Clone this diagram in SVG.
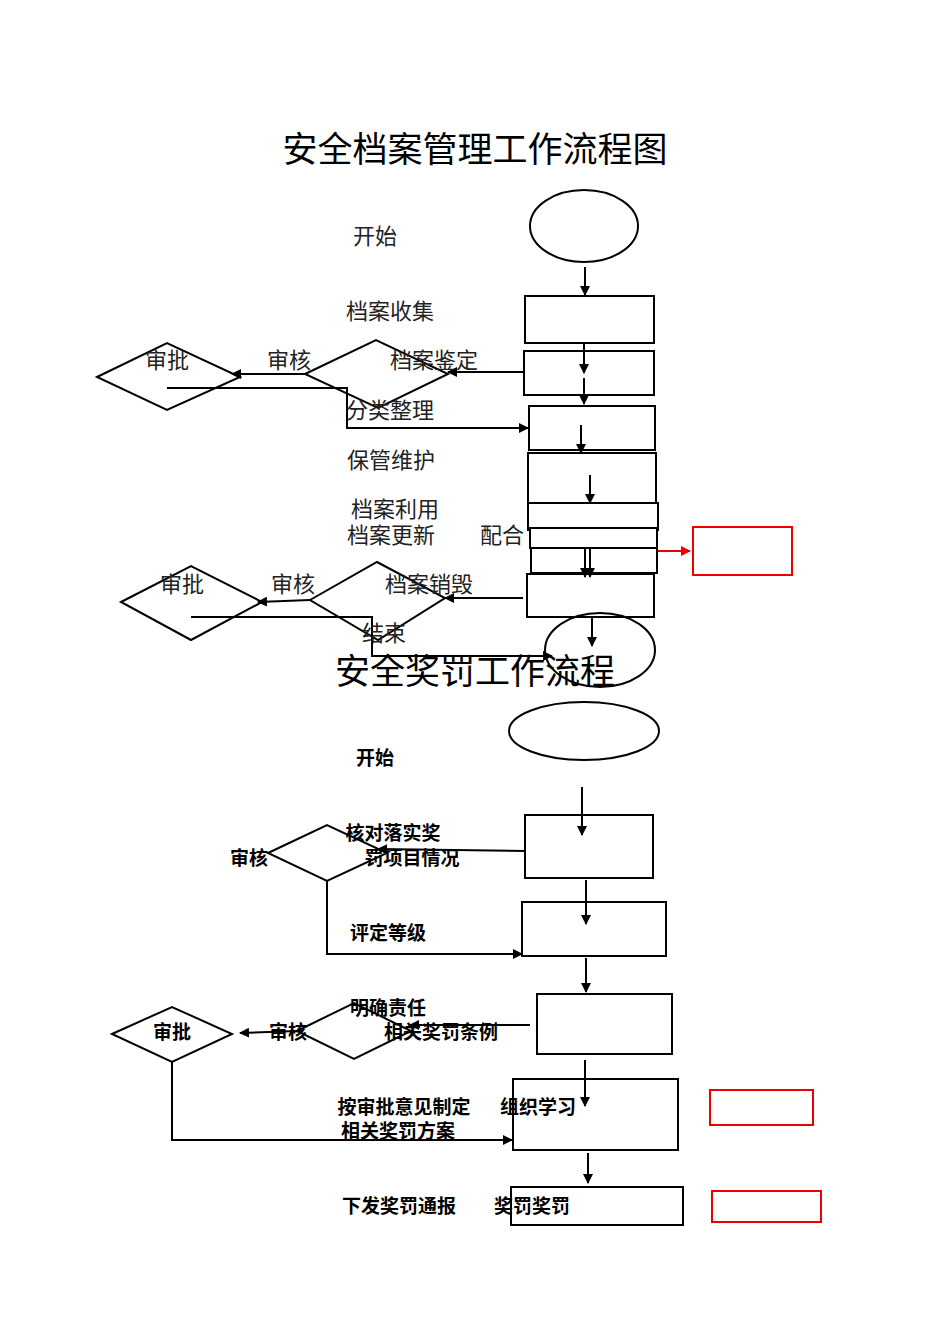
<svg xmlns="http://www.w3.org/2000/svg" width="950" height="1344" viewBox="0 0 950 1344">
<style>
text{font-family:"Noto Sans CJK SC","Liberation Sans",sans-serif;text-anchor:middle;fill:#000}
.t{font-size:35px}
.a{font-size:22px;fill:#222}
.b{font-size:19px;font-weight:bold}
.n{fill:#fff;stroke:#000;stroke-width:2}
.r{fill:none;stroke:#e00;stroke-width:2}
.c{fill:none;stroke:#000;stroke-width:2}
</style>
<defs>
<marker id="ar" viewBox="0 0 10 10" refX="9" refY="5" markerWidth="5" markerHeight="5" orient="auto"><path d="M0,0L10,5L0,10z" fill="#000"/></marker>
<marker id="ra" viewBox="0 0 10 10" refX="9" refY="5" markerWidth="5" markerHeight="5" orient="auto"><path d="M0,0L10,5L0,10z" fill="#e00"/></marker>
</defs>
<rect width="950" height="1344" fill="#fff"/>
<text class="t" x="475" y="162">安全档案管理工作流程图</text>
<g id="nodes1">
<g id="start1"><ellipse class="n" cx="584" cy="226" rx="54" ry="36"/></g>
<g id="r1"><rect class="n" x="525" y="296" width="129" height="47"/></g>
<g id="r2"><rect class="n" x="524" y="351" width="130" height="44"/></g>
<g id="r3"><rect class="n" x="529" y="406" width="126" height="44"/></g>
<g id="r4"><rect class="n" x="528" y="453" width="128" height="50"/></g>
<g id="r5"><rect class="n" x="528" y="503" width="130" height="27" stroke-width="3"/></g>
<g id="r6"><rect class="n" x="530" y="528" width="127" height="20" stroke-width="3"/></g>
<g id="r7"><rect class="n" x="531" y="548" width="126" height="25"/></g>
<g id="red1"><rect class="r" x="693" y="527" width="99" height="48"/></g>
<g id="r8"><rect class="n" x="527" y="574" width="127" height="43"/></g>
<g id="end1"><ellipse class="n" cx="600" cy="650" rx="55" ry="37" style="fill:none"/></g>
<g id="d1"><polygon class="n" points="305,374 376,340 448,374 378,408" style="fill:none"/></g>
<g id="d2"><polygon class="n" points="97,377 167,343 240,377 167,410" style="fill:none"/></g>
<g id="d3"><polygon class="n" points="310,600 377,562 445,598 378,640" style="fill:none"/></g>
<g id="d4"><polygon class="n" points="121,602 191,566 262,602 191,640" style="fill:none"/></g>
</g>
<g id="connectors1">
<line class="c" x1="585" y1="267" x2="585" y2="295" marker-end="url(#ar)"/>
<line class="c" x1="584" y1="343" x2="584" y2="373" marker-end="url(#ar)"/>
<line class="c" x1="584" y1="378" x2="584" y2="404" marker-end="url(#ar)"/>
<line class="c" x1="581" y1="425" x2="581" y2="453" marker-end="url(#ar)"/>
<line class="c" x1="590" y1="475" x2="590" y2="503" marker-end="url(#ar)"/>
<line class="c" x1="585" y1="548" x2="585" y2="577" marker-end="url(#ar)"/>
<line class="c" x1="590" y1="548" x2="590" y2="577" marker-end="url(#ar)"/>
<line x1="658" y1="551" x2="690" y2="551" stroke="#e00" stroke-width="2" marker-end="url(#ra)"/>
<line class="c" x1="592" y1="618" x2="592" y2="646" marker-end="url(#ar)"/>
<line class="c" x1="524" y1="372" x2="448" y2="372" marker-end="url(#ar)"/>
<line class="c" x1="305" y1="374" x2="232" y2="374" marker-end="url(#ar)"/>
<polyline class="c" points="167,388 347,388 347,428 528,428" marker-end="url(#ar)"/>
<line class="c" x1="523" y1="598" x2="445" y2="598" marker-end="url(#ar)"/>
<line class="c" x1="310" y1="600" x2="258" y2="602" marker-end="url(#ar)"/>
<polyline class="c" points="191,617 372,617 372,656 552,656" marker-end="url(#ar)"/>
</g>
<g id="labels1">
<text class="a" x="375" y="244">开始</text>
<text class="a" x="390" y="319">档案收集</text>
<text class="a" x="167" y="368">审批</text>
<text class="a" x="289" y="368">审核</text>
<text class="a" x="434" y="368">档案鉴定</text>
<text class="a" x="390" y="418">分类整理</text>
<text class="a" x="391" y="468">保管维护</text>
<text class="a" x="395" y="517">档案利用</text>
<text class="a" x="391" y="543">档案更新</text>
<text class="a" x="502" y="543">配合</text>
<text class="a" x="182" y="592">审批</text>
<text class="a" x="293" y="592">审核</text>
<text class="a" x="429" y="592">档案销毁</text>
<text class="a" x="384" y="641">结束</text>
</g>
<text class="t" x="475" y="684">安全奖罚工作流程</text>
<g id="nodes2">
<g id="start2"><ellipse class="n" cx="584" cy="731" rx="75" ry="29"/></g>
<g id="s1"><rect class="n" x="525" y="815" width="128" height="63"/></g>
<g id="s2"><rect class="n" x="522" y="902" width="144" height="54"/></g>
<g id="s3"><rect class="n" x="537" y="994" width="135" height="60"/></g>
<g id="s4"><rect class="n" x="513" y="1079" width="165" height="71"/></g>
<g id="s5"><rect class="n" x="511" y="1187" width="172" height="38"/></g>
<g id="red2"><rect class="r" x="710" y="1090" width="103" height="35"/></g>
<g id="red3"><rect class="r" x="712" y="1191" width="109" height="31"/></g>
<g id="e1"><polygon class="n" points="268,853 327,825 387,853 327,881" style="fill:none"/></g>
<g id="e2"><polygon class="n" points="297,1031 354,1003 411,1031 354,1059" style="fill:none"/></g>
<g id="e3"><polygon class="n" points="112,1034 172,1007 232,1034 172,1062" style="fill:none"/></g>
</g>
<g id="connectors2">
<line class="c" x1="582" y1="787" x2="582" y2="835" marker-end="url(#ar)"/>
<line class="c" x1="525" y1="851" x2="378" y2="849" marker-end="url(#ar)"/>
<polyline class="c" points="327,881 327,954 522,954" marker-end="url(#ar)"/>
<line class="c" x1="586" y1="880" x2="586" y2="924" marker-end="url(#ar)"/>
<line class="c" x1="586" y1="958" x2="586" y2="992" marker-end="url(#ar)"/>
<line class="c" x1="530" y1="1025" x2="410" y2="1025" marker-end="url(#ar)"/>
<line class="c" x1="297" y1="1031" x2="240" y2="1033" marker-end="url(#ar)"/>
<polyline class="c" points="172,1062 172,1140 512,1140" marker-end="url(#ar)"/>
<line class="c" x1="585" y1="1060" x2="585" y2="1106" marker-end="url(#ar)"/>
<line class="c" x1="588" y1="1153" x2="588" y2="1183" marker-end="url(#ar)"/>
</g>
<g id="labels2">
<text class="b" x="375" y="765">开始</text>
<text class="b" x="249" y="865">审核</text>
<text class="b" x="393" y="840">核对落实奖</text>
<text class="b" x="412" y="865">罚项目情况</text>
<text class="b" x="388" y="940">评定等级</text>
<text class="b" x="388" y="1015">明确责任</text>
<text class="b" x="288" y="1039">审核</text>
<text class="b" x="441" y="1039">相关奖罚条例</text>
<text class="b" x="172" y="1039">审批</text>
<text class="b" x="404" y="1114">按审批意见制定</text>
<text class="b" x="538" y="1114">组织学习</text>
<text class="b" x="398" y="1138">相关奖罚方案</text>
<text class="b" x="399" y="1213">下发奖罚通报</text>
<text class="b" x="532" y="1213">奖罚奖罚</text>
</g>
</svg>
